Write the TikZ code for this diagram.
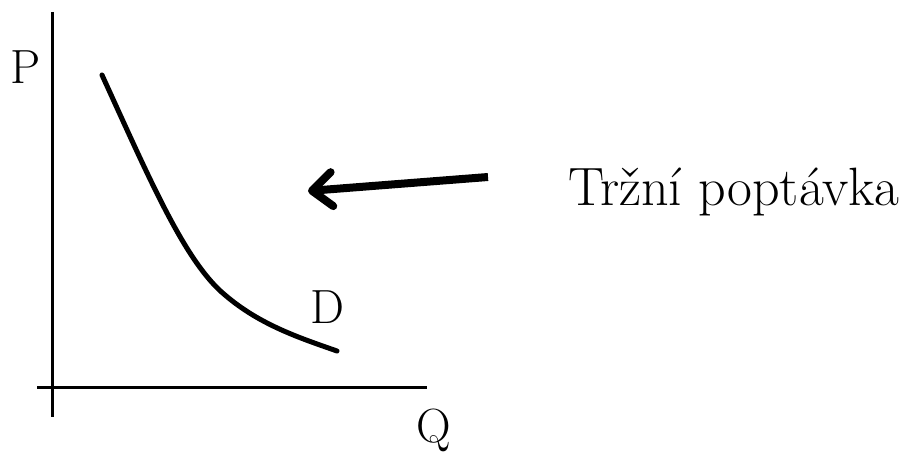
\documentclass[tikz,border=0pt]{standalone}
\usetikzlibrary{arrows.meta}
\begin{document}
\begin{tikzpicture}[x=1pt,y=-1pt,
  axis/.style={line width=3pt},
  curve/.style={line width=5pt},
  bigarrow/.style={line width=8pt,-{Straight Barb[length=20pt,width=34pt,line cap=round,line join=round]}},
  lbl/.style={inner sep=0pt,font=\fontsize{48}{56}\selectfont},
  biglbl/.style={inner sep=0pt,font=\fontsize{54}{62}\selectfont}]
\useasboundingbox (0,0) rectangle (909,452);
\coordinate (ytop) at (52,12);
\coordinate (ybot) at (52,417);
\coordinate (xl) at (37,387);
\coordinate (xr) at (427,387);
\draw[axis] (ytop) -- (ybot);
\draw[axis] (xl) -- (xr);
\draw[curve,line cap=round] (102,75) .. controls (150,180) and (185,262) .. (225,295) .. controls (260,325) and (300,338) .. (337,351);
\node[lbl,anchor=base west] (P) at (10,83) {P};
\node[lbl,anchor=base west] (D) at (310,323) {D};
\node[lbl,anchor=base west] (Q) at (416,442) {Q};
\node[biglbl,anchor=base west] (T) at (568,205) {Tržní poptávka};
\coordinate (atail) at (488,177);
\coordinate (atip) at (308,191);
\draw[bigarrow] (atail) -- (atip);
\end{tikzpicture}
\end{document}
